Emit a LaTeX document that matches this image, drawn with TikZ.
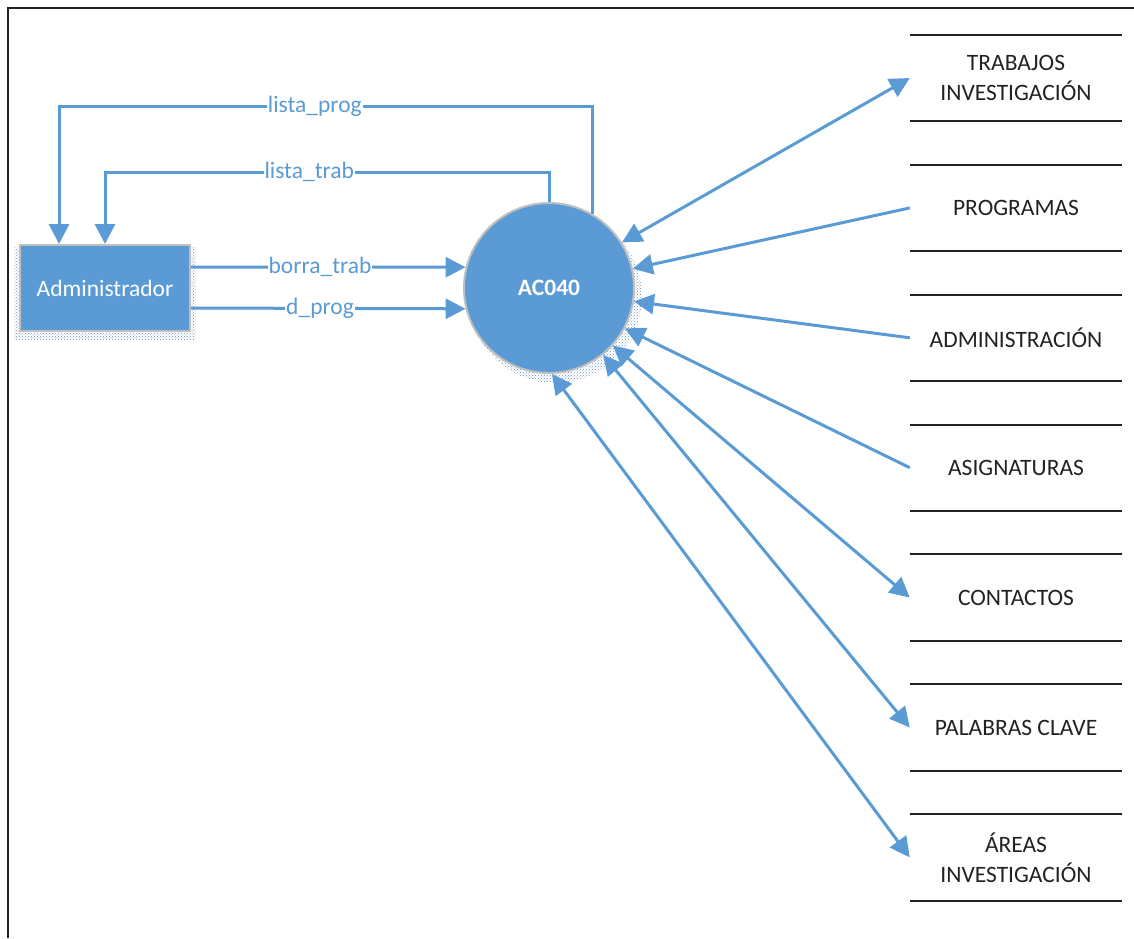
\documentclass[tikz,border=0pt]{standalone}
\usepackage{fontspec}
\setmainfont{Carlito}
\usetikzlibrary{arrows.meta,positioning,shadows,patterns}
\definecolor{dfdblue}{HTML}{5B9BD5}
\definecolor{dfdgray}{HTML}{BFBFBF}
\definecolor{dfddots}{HTML}{6F93BC}
\definecolor{dfdink}{HTML}{222222}

\begin{document}
\begin{tikzpicture}[x=1pt,y=-1pt,->,>={Triangle[length=20pt,width=20pt]},
   node distance=43.5pt,font=\fontsize{23.5}{30}\selectfont,
   flow/.style={draw=dfdblue,line width=3pt},
   lbl/.style={fill=white,text=dfdblue,inner sep=1pt},
   entity/.style={rectangle,fill=dfdblue,draw=dfdgray,line width=2pt,text=white,
     minimum width=170pt,minimum height=86pt,
     general shadow={pattern=crosshatch dots,pattern color=dfddots,shadow scale=1.07,shadow yshift=-5pt}},
   process/.style={circle,fill=dfdblue,draw=dfdgray,line width=2pt,text=white,
     font=\fontsize{23.5}{30}\selectfont\bfseries,minimum size=170pt,
     general shadow={pattern=crosshatch dots,pattern color=dfddots,shadow scale=1.02,shadow xshift=6pt,shadow yshift=-8pt}},
   store/.style={minimum width=212pt,minimum height=86pt,align=center,text=dfdink,
     append after command={(\tikzlastnode.north west) edge[-,draw=dfdink,line width=2pt] (\tikzlastnode.north east)
       (\tikzlastnode.south west) edge[-,draw=dfdink,line width=2pt] (\tikzlastnode.south east)}}]
  \useasboundingbox (0,0) rectangle (1134,938);
  \draw[-,draw=dfdink,line width=1.5pt] (8,938) -- (8,8) -- (1134,8);

  \node[entity] (adm) at (105,288) {Administrador};
  \node[process] (proc) at (549,288) {AC040};

  % almacenes
  \node[store] (trab) at (1016,78) {TRABAJOS\\INVESTIGACIÓN};
  \node[store] (prog) [below=of trab] {PROGRAMAS};
  \node[store] (admi) [below=of prog] {ADMINISTRACIÓN};
  \node[store] (asig) [below=of admi] {ASIGNATURAS};
  \node[store] (cont) [below=of asig] {CONTACTOS};
  \node[store] (pala) [below=of cont] {PALABRAS CLAVE};
  \node[store] (area) [below=of pala] {ÁREAS\\INVESTIGACIÓN};

  % flujos con el administrador
  \draw[flow] (proc.60) -- ++(0,-107) -| node[lbl,pos=0.26]{lista\_prog} ([xshift=40pt]adm.north west);
  \draw[flow] (proc.north) -- ++(0,-30) -| node[lbl,pos=0.27]{lista\_trab} (adm.north);
  \draw[flow] ([yshift=21pt]adm.east) -- node[lbl,pos=0.47]{borra\_trab} (proc.166);
  \draw[flow] ([yshift=-20pt]adm.east) -- node[lbl,pos=0.47]{d\_prog} (proc.-166.5);

  % flujos con los almacenes
  \draw[flow,<->] (trab.west) -- (proc.32);
  \draw[flow] (prog.west) -- (proc.13);
  \draw[flow] (admi.west) -- (proc.-9);
  \draw[flow] (asig.west) -- (proc.-28);
  \draw[flow,<->] (cont.west) -- (proc.-42);
  \draw[flow,<->] (pala.west) -- (proc.-51);
  \draw[flow,<->] (area.west) -- (proc.-88);
\end{tikzpicture}
\end{document}
